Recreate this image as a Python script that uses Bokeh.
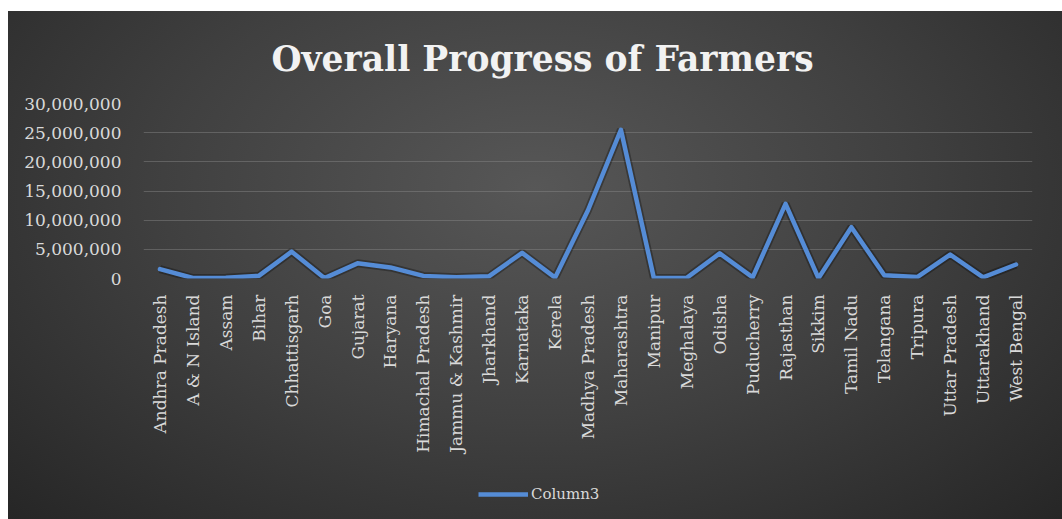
from bokeh.plotting import figure
from bokeh.layouts import column
from bokeh.models import Legend, LegendItem, NumeralTickFormatter, FactorRange, Range1d
from bokeh.embed import file_html
from bokeh.resources import INLINE
import math

states = ["Andhra Pradesh", "A & N Island", "Assam", "Bihar", "Chhattisgarh", "Goa",
          "Gujarat", "Haryana", "Himachal Pradesh", "Jammu & Kashmir", "Jharkhand",
          "Karnataka", "Kerela", "Madhya Pradesh", "Maharashtra", "Manipur", "Meghalaya",
          "Odisha", "Puducherry", "Rajasthan", "Sikkim", "Tamil Nadu", "Telangana",
          "Tripura", "Uttar Pradesh", "Uttarakhand", "West Bengal"]
column3 = [1600000, 80000, 150000, 450000, 4600000, 60000,
           2600000, 1900000, 450000, 200000, 400000,
           4400000, 150000, 11700000, 25500000, 100000, 120000,
           4300000, 200000, 12800000, 60000, 8800000, 550000,
           250000, 4100000, 200000, 2400000]
y_ticks = [0, 5000000, 10000000, 15000000, 20000000, 25000000, 30000000]

FONT = "DejaVu Serif"
TXT = "#d9d9d9"
LINE = "#558CD6"

xr = FactorRange(*states)
yr = Range1d(0, 30000000)

p = figure(x_range=xr, y_range=yr,
           width=1054, height=459, output_backend="svg", toolbar_location=None,
           title="Overall Progress of Farmers",
           min_border_left=135, min_border_right=30, min_border_top=92, min_border_bottom=192)
p.border_fill_alpha = 0
p.background_fill_alpha = 0
p.outline_line_color = None

p.title.align = "left"
p.title.offset = 128
p.title.standoff = 49
p.title.text_font = FONT
p.title.text_font_size = "34.5px"
p.title.text_font_style = "bold"
p.title.text_color = "#f2f2f2"

p.line(states, column3, line_color="black", line_width=8, line_alpha=0.3)
p.line(states, column3, line_color=LINE, line_width=4.5, line_join="round", line_cap="round")

p.yaxis.ticker = y_ticks
p.yaxis.formatter = NumeralTickFormatter(format="0,0")
for ax in (p.xaxis, p.yaxis):
    ax.axis_line_color = None
    ax.major_tick_line_color = None
    ax.minor_tick_line_color = None
    ax.major_label_text_font = FONT
    ax.major_label_text_color = TXT
p.yaxis.major_label_text_font_size = "17px"
p.yaxis.major_label_standoff = 16
p.xaxis.major_label_text_font_size = "17px"
p.xaxis.major_label_orientation = math.pi / 2
p.xaxis.major_label_standoff = 10

p.xgrid.grid_line_color = None
p.ygrid.grid_line_color = "#8a8a8a"
p.ygrid.grid_line_alpha = 0.45
p.ygrid.grid_line_width = 1

# legend strip below the chart
p2 = figure(x_range=xr, y_range=yr, width=1054, height=49, output_backend="svg",
            toolbar_location=None, min_border=0)
p2.axis.visible = False
p2.grid.grid_line_color = None
p2.border_fill_alpha = 0
p2.background_fill_alpha = 0
p2.outline_line_color = None
key = p2.line(states, column3, line_color=LINE, line_width=4.5)
key.visible = False

legend = Legend(items=[LegendItem(label="Column3", renderers=[key])],
                location=(335, 15), orientation="horizontal",
                background_fill_alpha=0, border_line_color=None,
                inactive_fill_alpha=0,
                label_text_font=FONT, label_text_font_size="15px", label_text_color=TXT,
                glyph_width=50, label_standoff=3, padding=0, margin=0)
p2.add_layout(legend, "center")

lay = column(p, p2, spacing=0)
lay.margin = (11, 0, 0, 8)
lay.styles = {"background": "radial-gradient(ellipse at 50% 35%, #575757 0%, #404040 50%, #262626 100%)"}

open("out.html", "w").write(file_html(lay, INLINE))
